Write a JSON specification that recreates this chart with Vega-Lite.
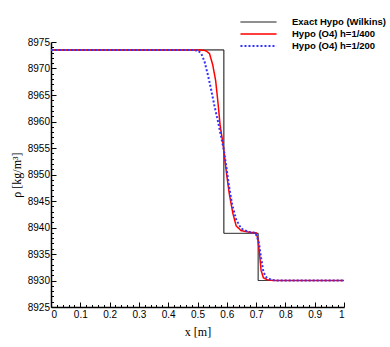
{
  "$schema": "https://vega.github.io/schema/vega-lite/v6.json",
  "width": 293,
  "height": 265,
  "autosize": {"type": "none"},
  "padding": {"left": 51, "top": 42, "right": 46, "bottom": 40},
  "config": {"view": {"stroke": null}, "font": "Liberation Sans"},
  "data": {
    "values": [
      {"series": "Exact Hypo (Wilkins)", "x": 0, "rho": 8973.5},
      {"series": "Exact Hypo (Wilkins)", "x": 0.59, "rho": 8973.5},
      {"series": "Exact Hypo (Wilkins)", "x": 0.59, "rho": 8938.9},
      {"series": "Exact Hypo (Wilkins)", "x": 0.707, "rho": 8938.9},
      {"series": "Exact Hypo (Wilkins)", "x": 0.707, "rho": 8930},
      {"series": "Exact Hypo (Wilkins)", "x": 1, "rho": 8930},
      {"series": "Hypo (O4) h=1/400", "x": 0, "rho": 8973.5},
      {"series": "Hypo (O4) h=1/400", "x": 0.5, "rho": 8973.5},
      {"series": "Hypo (O4) h=1/400", "x": 0.52, "rho": 8973.45},
      {"series": "Hypo (O4) h=1/400", "x": 0.53, "rho": 8973.3},
      {"series": "Hypo (O4) h=1/400", "x": 0.541, "rho": 8972.8},
      {"series": "Hypo (O4) h=1/400", "x": 0.552, "rho": 8970.7},
      {"series": "Hypo (O4) h=1/400", "x": 0.562, "rho": 8967.7},
      {"series": "Hypo (O4) h=1/400", "x": 0.57, "rho": 8963.5},
      {"series": "Hypo (O4) h=1/400", "x": 0.577, "rho": 8959.4},
      {"series": "Hypo (O4) h=1/400", "x": 0.587, "rho": 8955.8},
      {"series": "Hypo (O4) h=1/400", "x": 0.592, "rho": 8953.4},
      {"series": "Hypo (O4) h=1/400", "x": 0.6, "rho": 8949.8},
      {"series": "Hypo (O4) h=1/400", "x": 0.609, "rho": 8946.2},
      {"series": "Hypo (O4) h=1/400", "x": 0.621, "rho": 8942.6},
      {"series": "Hypo (O4) h=1/400", "x": 0.632, "rho": 8940.3},
      {"series": "Hypo (O4) h=1/400", "x": 0.649, "rho": 8939.4},
      {"series": "Hypo (O4) h=1/400", "x": 0.678, "rho": 8939.1},
      {"series": "Hypo (O4) h=1/400", "x": 0.7, "rho": 8939.0},
      {"series": "Hypo (O4) h=1/400", "x": 0.706, "rho": 8937.9},
      {"series": "Hypo (O4) h=1/400", "x": 0.712, "rho": 8934.9},
      {"series": "Hypo (O4) h=1/400", "x": 0.717, "rho": 8931.9},
      {"series": "Hypo (O4) h=1/400", "x": 0.725, "rho": 8930.5},
      {"series": "Hypo (O4) h=1/400", "x": 0.74, "rho": 8930.1},
      {"series": "Hypo (O4) h=1/400", "x": 0.76, "rho": 8930},
      {"series": "Hypo (O4) h=1/400", "x": 1, "rho": 8930},
      {"series": "Hypo (O4) h=1/200", "x": 0, "rho": 8973.5},
      {"series": "Hypo (O4) h=1/200", "x": 0.48, "rho": 8973.5},
      {"series": "Hypo (O4) h=1/200", "x": 0.501, "rho": 8973.4},
      {"series": "Hypo (O4) h=1/200", "x": 0.513, "rho": 8972.8},
      {"series": "Hypo (O4) h=1/200", "x": 0.524, "rho": 8971.3},
      {"series": "Hypo (O4) h=1/200", "x": 0.535, "rho": 8968.9},
      {"series": "Hypo (O4) h=1/200", "x": 0.547, "rho": 8965.9},
      {"series": "Hypo (O4) h=1/200", "x": 0.558, "rho": 8962.9},
      {"series": "Hypo (O4) h=1/200", "x": 0.57, "rho": 8960.0},
      {"series": "Hypo (O4) h=1/200", "x": 0.581, "rho": 8957.0},
      {"series": "Hypo (O4) h=1/200", "x": 0.59, "rho": 8954.6},
      {"series": "Hypo (O4) h=1/200", "x": 0.598, "rho": 8951.6},
      {"series": "Hypo (O4) h=1/200", "x": 0.607, "rho": 8948.0},
      {"series": "Hypo (O4) h=1/200", "x": 0.618, "rho": 8944.4},
      {"series": "Hypo (O4) h=1/200", "x": 0.632, "rho": 8941.5},
      {"series": "Hypo (O4) h=1/200", "x": 0.649, "rho": 8939.8},
      {"series": "Hypo (O4) h=1/200", "x": 0.672, "rho": 8939.2},
      {"series": "Hypo (O4) h=1/200", "x": 0.698, "rho": 8939.0},
      {"series": "Hypo (O4) h=1/200", "x": 0.709, "rho": 8937.3},
      {"series": "Hypo (O4) h=1/200", "x": 0.717, "rho": 8934.3},
      {"series": "Hypo (O4) h=1/200", "x": 0.725, "rho": 8931.6},
      {"series": "Hypo (O4) h=1/200", "x": 0.735, "rho": 8930.6},
      {"series": "Hypo (O4) h=1/200", "x": 0.752, "rho": 8930.1},
      {"series": "Hypo (O4) h=1/200", "x": 0.77, "rho": 8930},
      {"series": "Hypo (O4) h=1/200", "x": 1, "rho": 8930}
    ]
  },
  "mark": {"type": "line", "clip": true},
  "encoding": {
    "x": {
      "field": "x", "type": "quantitative",
      "scale": {"domain": [0, 1], "nice": false, "zero": false},
      "axis": {
        "title": "x  [m]",
        "titleFont": "Liberation Serif", "titleFontWeight": "normal", "titleFontSize": 12, "titleColor": "black", "titlePadding": 4,
        "values": [0,0.02,0.04,0.06,0.08,0.1,0.12,0.14,0.16,0.18,0.2,0.22,0.24,0.26,0.28,0.3,0.32,0.34,0.36,0.38,0.4,0.42,0.44,0.46,0.48,0.5,0.52,0.54,0.56,0.58,0.6,0.62,0.64,0.66,0.68,0.7,0.72,0.74,0.76,0.78,0.8,0.82,0.84,0.86,0.88,0.9,0.92,0.94,0.96,0.98,1],
        "format": "~g",
        "labelExpr": "abs(datum.value*10 - round(datum.value*10)) < 0.000001 ? datum.label : ''",
        "labelOverlap": false,
        "labelFont": "Liberation Sans", "labelFontSize": 10, "labelColor": "black", "labelPadding": 7.5,
        "tickSize": {"condition": {"test": "abs(datum.value*10 - round(datum.value*10)) < 0.000001", "value": -5}, "value": -2.5},
        "tickColor": "black", "tickWidth": 1, "domainColor": "black", "domainWidth": 1.5, "grid": false
      }
    },
    "y": {
      "field": "rho", "type": "quantitative",
      "scale": {"domain": [8925, 8975], "nice": false, "zero": false},
      "axis": {
        "title": "ρ  [kg/m³]",
        "titleFont": "Liberation Serif", "titleFontWeight": "normal", "titleFontSize": 12, "titleColor": "black", "titlePadding": 4,
        "values": [8925,8926,8927,8928,8929,8930,8931,8932,8933,8934,8935,8936,8937,8938,8939,8940,8941,8942,8943,8944,8945,8946,8947,8948,8949,8950,8951,8952,8953,8954,8955,8956,8957,8958,8959,8960,8961,8962,8963,8964,8965,8966,8967,8968,8969,8970,8971,8972,8973,8974,8975],
        "format": "d",
        "labelExpr": "datum.value % 5 == 0 ? datum.label : ''",
        "labelOverlap": false,
        "labelFont": "Liberation Sans", "labelFontSize": 10, "labelColor": "black", "labelPadding": 6.5,
        "tickSize": {"condition": {"test": "datum.value % 5 == 0", "value": -5}, "value": -2.5},
        "tickColor": "black", "tickWidth": 1, "domainColor": "black", "domainWidth": 1.5, "grid": false
      }
    },
    "color": {
      "field": "series", "type": "nominal",
      "scale": {"domain": ["Exact Hypo (Wilkins)", "Hypo (O4) h=1/400", "Hypo (O4) h=1/200"], "range": ["#000000", "#ff0000", "#3333ff"]},
      "legend": {
        "title": null, "orient": "none", "legendX": 188, "legendY": -24.5,
        "symbolType": "stroke", "symbolSize": 1300, "symbolStrokeWidth": 2,
        "clipHeight": 9,
        "labelFont": "Liberation Sans", "labelFontWeight": "bold", "labelFontSize": 9.5, "labelColor": "black",
        "labelOffset": 14, "rowPadding": 2, "padding": 0
      }
    },
    "strokeDash": {
      "field": "series", "type": "nominal",
      "scale": {"domain": ["Exact Hypo (Wilkins)", "Hypo (O4) h=1/400", "Hypo (O4) h=1/200"], "range": [[1, 0], [1, 0], [2, 2]]}
    },
    "strokeWidth": {
      "field": "series", "type": "nominal",
      "scale": {"domain": ["Exact Hypo (Wilkins)", "Hypo (O4) h=1/400", "Hypo (O4) h=1/200"], "range": [1, 2, 2]}
    }
  }
}
